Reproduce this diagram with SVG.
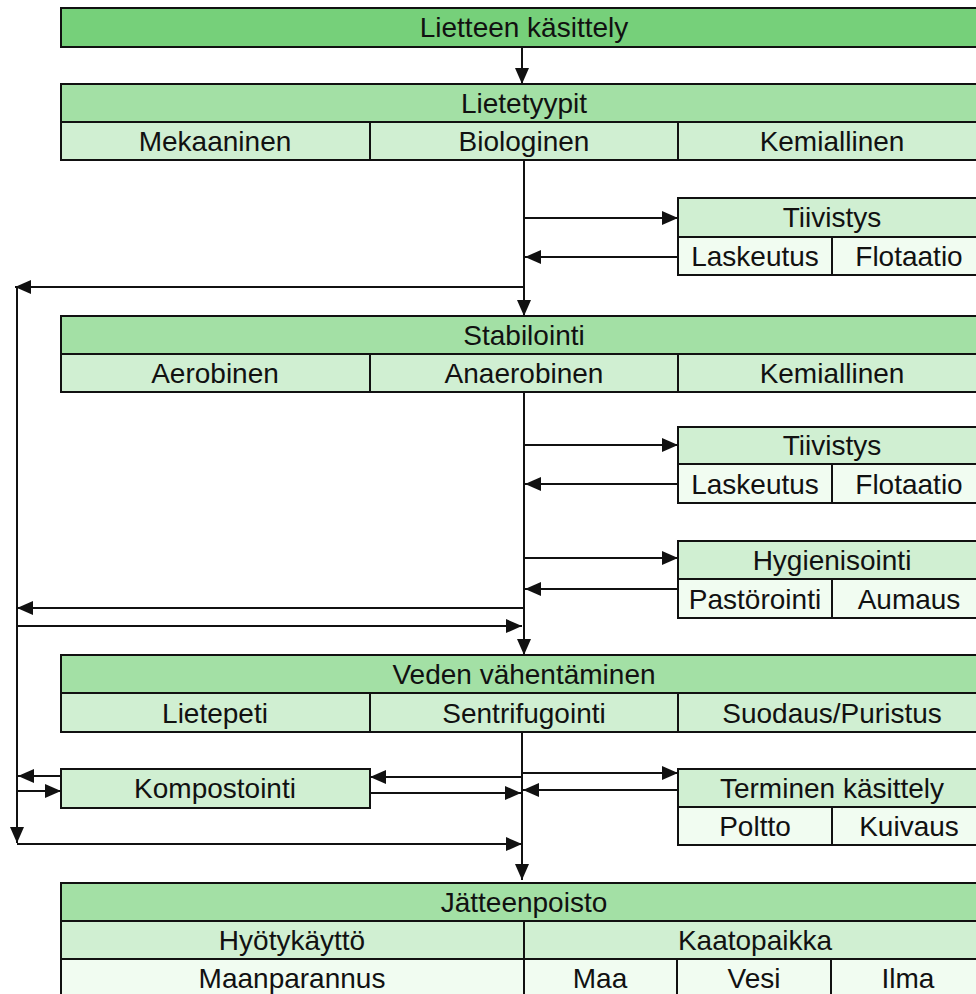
<svg xmlns="http://www.w3.org/2000/svg" width="976" height="994" viewBox="0 0 976 994">
<style>
rect{stroke:#111;stroke-width:2}
.g1{fill:#76d07a}
.g2{fill:#a3e0a5}
.g3{fill:#d0efd2}
.g4{fill:#f1fcf1}
text{font-family:"Liberation Sans",Arial,sans-serif;font-size:28px;fill:#111;text-anchor:middle}
.cn line{stroke:#111;stroke-width:2;marker-end:url(#ah)}
.cn line.p{marker-end:none}
</style>
<defs>
<marker id="ah" viewBox="0 0 16 14" refX="16" refY="7" markerWidth="16" markerHeight="14" markerUnits="userSpaceOnUse" orient="auto">
<path d="M0,0 L16,7 L0,14 z" fill="#111"/>
</marker>
</defs>
<rect width="976" height="994" fill="#fff" style="stroke:none"/>

<g id="lietteen-kasittely">
<rect class="g1" x="61" y="8" width="925" height="39"/>
<text x="524" y="37">Lietteen käsittely</text>
</g>

<g id="lietetyypit">
<rect class="g2" x="61" y="84" width="925" height="38"/>
<rect class="g3" x="61" y="122" width="309" height="38"/>
<rect class="g3" x="370" y="122" width="308" height="38"/>
<rect class="g3" x="678" y="122" width="308" height="38"/>
<text x="524" y="113">Lietetyypit</text>
<text x="215" y="151">Mekaaninen</text>
<text x="524" y="151">Biologinen</text>
<text x="832" y="151">Kemiallinen</text>
</g>

<g id="tiivistys-1">
<rect class="g3" x="678" y="198" width="308" height="39"/>
<rect class="g4" x="678" y="237" width="154" height="38"/>
<rect class="g4" x="832" y="237" width="154" height="38"/>
<text x="832" y="227">Tiivistys</text>
<text x="755" y="266">Laskeutus</text>
<text x="909" y="266">Flotaatio</text>
</g>

<g id="stabilointi">
<rect class="g2" x="61" y="316" width="925" height="38"/>
<rect class="g3" x="61" y="354" width="309" height="38"/>
<rect class="g3" x="370" y="354" width="308" height="38"/>
<rect class="g3" x="678" y="354" width="308" height="38"/>
<text x="524" y="345">Stabilointi</text>
<text x="215" y="383">Aerobinen</text>
<text x="524" y="383">Anaerobinen</text>
<text x="832" y="383">Kemiallinen</text>
</g>

<g id="tiivistys-2">
<rect class="g3" x="678" y="427" width="308" height="37"/>
<rect class="g4" x="678" y="464" width="154" height="39"/>
<rect class="g4" x="832" y="464" width="154" height="39"/>
<text x="832" y="455">Tiivistys</text>
<text x="755" y="494">Laskeutus</text>
<text x="909" y="494">Flotaatio</text>
</g>

<g id="hygienisointi">
<rect class="g3" x="678" y="541" width="308" height="38"/>
<rect class="g4" x="678" y="579" width="154" height="39"/>
<rect class="g4" x="832" y="579" width="154" height="39"/>
<text x="832" y="570">Hygienisointi</text>
<text x="755" y="609">Pastörointi</text>
<text x="909" y="609">Aumaus</text>
</g>

<g id="veden-vahentaminen">
<rect class="g2" x="61" y="655" width="925" height="38"/>
<rect class="g3" x="61" y="693" width="309" height="39"/>
<rect class="g3" x="370" y="693" width="308" height="39"/>
<rect class="g3" x="678" y="693" width="308" height="39"/>
<text x="524" y="684">Veden vähentäminen</text>
<text x="215" y="723">Lietepeti</text>
<text x="524" y="723">Sentrifugointi</text>
<text x="832" y="723">Suodaus/Puristus</text>
</g>

<g id="kompostointi">
<rect class="g3" x="61" y="769" width="309" height="39"/>
<text x="215" y="798">Kompostointi</text>
</g>

<g id="terminen-kasittely">
<rect class="g3" x="678" y="769" width="308" height="38"/>
<rect class="g4" x="678" y="807" width="154" height="38"/>
<rect class="g4" x="832" y="807" width="154" height="38"/>
<text x="832" y="798">Terminen käsittely</text>
<text x="755" y="836">Poltto</text>
<text x="909" y="836">Kuivaus</text>
</g>

<g id="jatteenpoisto">
<rect class="g2" x="61" y="883" width="925" height="38"/>
<rect class="g3" x="61" y="921" width="463" height="38"/>
<rect class="g3" x="524" y="921" width="462" height="38"/>
<rect class="g4" x="61" y="959" width="463" height="40"/>
<rect class="g4" x="524" y="959" width="153" height="40"/>
<rect class="g4" x="677" y="959" width="154" height="40"/>
<rect class="g4" x="831" y="959" width="155" height="40"/>
<text x="524" y="912">Jätteenpoisto</text>
<text x="292" y="950">Hyötykäyttö</text>
<text x="755" y="950">Kaatopaikka</text>
<text x="292" y="988">Maanparannus</text>
<text x="600" y="988">Maa</text>
<text x="754" y="988">Vesi</text>
<text x="908" y="988">Ilma</text>
</g>

<g id="connectors" class="cn">
<line x1="522" y1="48" x2="522" y2="84"/>
<line x1="524" y1="161" x2="524" y2="316"/>
<line x1="524" y1="218" x2="678" y2="218"/>
<line x1="678" y1="257" x2="525" y2="257"/>
<line x1="524" y1="287" x2="15" y2="287"/>
<line x1="17" y1="287" x2="17" y2="843"/>
<line x1="524" y1="393" x2="524" y2="655"/>
<line x1="524" y1="445" x2="678" y2="445"/>
<line x1="678" y1="484" x2="525" y2="484"/>
<line x1="524" y1="558" x2="678" y2="558"/>
<line x1="678" y1="589" x2="525" y2="589"/>
<line x1="523" y1="608" x2="17" y2="608"/>
<line x1="17" y1="626" x2="522" y2="626"/>
<line x1="522" y1="733" x2="522" y2="880"/>
<line x1="522" y1="773" x2="678" y2="773"/>
<line x1="678" y1="790" x2="523" y2="790"/>
<line x1="522" y1="777" x2="370" y2="777"/>
<line x1="370" y1="793" x2="521" y2="793"/>
<line x1="61" y1="776" x2="18" y2="776"/>
<line x1="18" y1="791" x2="61" y2="791"/>
<line x1="17" y1="844" x2="522" y2="844"/>
</g>
</svg>
